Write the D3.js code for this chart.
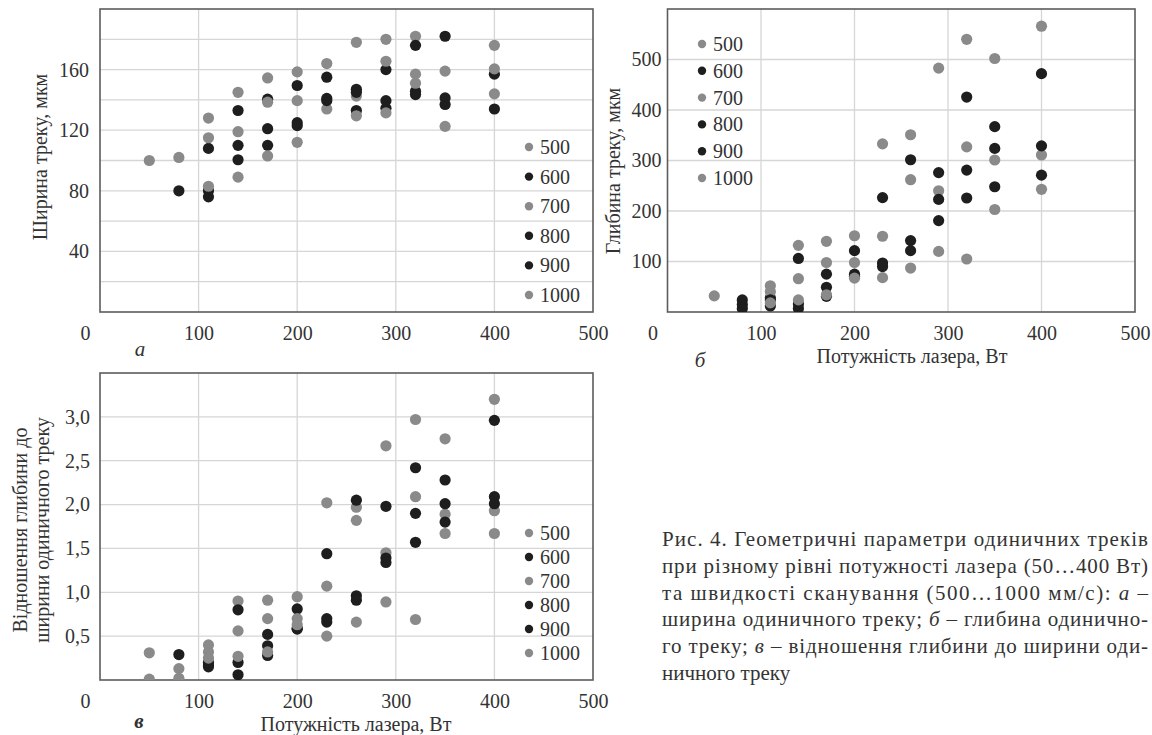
<!DOCTYPE html>
<html>
<head>
<meta charset="utf-8">
<script src="https://cdn.jsdelivr.net/npm/d3@7"></script>
<style>
    body { margin: 0; background: #fff; }
    text { font-family: "Liberation Serif", "Times New Roman", serif; fill: #333; }
</style>
</head>
<body>
<svg id="vis" width="1152" height="735"></svg>
<script>
// laser power, W (x values shared by all three panels)
var powers = [50, 80, 110, 140, 170, 200, 230, 260, 290, 320, 350, 400];
// scan speed, mm/s (series)
var speeds = [500, 600, 700, 800, 900, 1000];
var speedColors = ["#8a8a8a", "#1e1e1e", "#8a8a8a", "#1e1e1e", "#1e1e1e", "#8a8a8a"];
var xTicks = [0, 100, 200, 300, 400, 500];

// а - track width, um
var width500  = [100, 102, 128, 145, 154.5, 158.5, 164, 178, 180, 182, 159, 176];
var width600  = [null, 80, 108, 133, 140.5, 149.5, 155, 147, 160, 176, 182, 157];
var width700  = [null, null, 115, 119, 138.5, 139.5, 134, 142.5, 165.5, 157, 122.5, 160.5];
var width800  = [null, null, 80, 110, 121, 125, 141, 145, 139.5, 145.7, 141.3, 134];
var width900  = [null, null, 76, 100.5, 110, 123, 139.5, 133, 134.5, 143.5, 137, null];
var width1000 = [null, null, 83, 89, 103, 112, null, 129.5, 131.5, 151, null, 144];

// б - track depth, um
var depth500  = [32, null, 52, 132, 140, 151, 333, 351, 483, 540, 502, 566];
var depth600  = [null, 24, 28, 106, 75, 121.5, 226.5, 301.5, 276, 425.6, 367, 472];
var depth700  = [null, null, 40, 66, 98, 98, 150, 262, 240, 327, 301, 311];
var depth800  = [null, 15, 24, 16, 49, 75, 97, 141.4, 223, 281, 324, 329];
var depth900  = [null, 7, 12, 7, 31, 71, 90, 121.5, 181, 225.7, 248, 271];
var depth1000 = [null, null, 18, 24, 34, 67, 68, 87, 120, 105, 203, 243];

// в - depth / width ratio
var ratio500  = [0.31, 0.13, 0.40, 0.90, 0.91, 0.95, 2.02, 1.97, 2.67, 2.97, 2.75, 3.20];
var ratio600  = [null, 0.29, 0.20, 0.80, 0.52, 0.81, 1.44, 2.05, 1.98, 2.42, 2.28, 2.96];
var ratio700  = [null, null, 0.32, 0.56, 0.70, 0.70, 1.07, 1.82, 1.45, 2.09, 1.89, 1.93];
var ratio800  = [null, null, 0.17, 0.20, 0.39, 0.59, 0.70, 0.96, 1.39, 1.90, 2.01, 2.09];
var ratio900  = [null, null, 0.15, 0.06, 0.28, 0.58, 0.66, 0.91, 1.34, 1.57, 1.80, 2.01];
var ratio1000 = [0.01, 0.02, 0.25, 0.27, 0.32, 0.63, 0.50, 0.66, 0.89, 0.69, 1.67, 1.67];

var captionLines = [
    ["Рис. 4. Геометричні параметри одиничних треків"],
    ["при різному рівні потужності лазера (50…400 Вт)"],
    ["та швидкості сканування (500…1000 мм/с): ", "а", " –"],
    ["ширина одиничного треку; ", "б", " – глибина одинично-"],
    ["го треку; ", "в", " – відношення глибини до ширини оди-"],
    ["ничного треку"]
];

var svg = d3.select("#vis");
var commaFmt = function (d) { return d3.format(".1f")(d).replace(".", ","); };

function drawPanel(p) {
    var x = d3.scaleLinear().domain([0, 500]).range([p.left, p.right]);
    var y = d3.scaleLinear().domain([0, p.yMax]).range([p.bottom, p.top]);
    var g = svg.append("g");

    // grid
    g.append("g").selectAll("line")
        .data(p.yGrid)
        .enter().append("line")
        .attr("x1", p.left).attr("x2", p.right)
        .attr("y1", function (d) { return y(d); })
        .attr("y2", function (d) { return y(d); })
        .attr("stroke", "#d6d6d6")
        .attr("stroke-width", 1.3);
    g.append("g").selectAll("line")
        .data([100, 200, 300, 400])
        .enter().append("line")
        .attr("y1", p.top).attr("y2", p.bottom)
        .attr("x1", function (d) { return x(d); })
        .attr("x2", function (d) { return x(d); })
        .attr("stroke", "#d6d6d6")
        .attr("stroke-width", 1.3);

    // frame
    g.append("rect")
        .attr("x", p.left).attr("y", p.top)
        .attr("width", p.right - p.left)
        .attr("height", p.bottom - p.top)
        .attr("fill", "none")
        .attr("stroke", "#5c5c5c")
        .attr("stroke-width", 1.6);

    // axes
    var yAxis = g.append("g")
        .attr("transform", "translate(" + p.left + ",0)")
        .call(d3.axisLeft(y).tickValues(p.yTicks).tickSize(0).tickPadding(p.yPad).tickFormat(p.fmt));
    yAxis.select(".domain").remove();
    yAxis.selectAll("text").style("font-size", "20px");

    var xAxis = g.append("g")
        .attr("transform", "translate(0," + p.bottom + ")")
        .call(d3.axisBottom(x).tickValues(xTicks).tickSize(0).tickPadding(14));
    xAxis.select(".domain").remove();
    xAxis.selectAll("text").style("font-size", "20px")
        .attr("x", function (d) { return d === 0 ? -15 : 0; });

    // points
    var clipId = "clip" + p.name;
    g.append("clipPath").attr("id", clipId)
        .append("rect")
        .attr("x", p.left).attr("y", p.top)
        .attr("width", p.right - p.left)
        .attr("height", p.bottom - p.top);

    var dots = g.append("g").attr("clip-path", "url(#" + clipId + ")");
    p.series.forEach(function (vals, si) {
        var pts = powers.map(function (pw, i) { return {p: pw, v: vals[i]}; })
            .filter(function (d) { return d.v !== null; });
        dots.append("g").selectAll("circle")
            .data(pts)
            .enter().append("circle")
            .attr("cx", function (d) { return x(d.p); })
            .attr("cy", function (d) { return y(d.v); })
            .attr("r", 5.6)
            .attr("fill", speedColors[si]);
    });

    // legend
    var leg = g.append("g").selectAll("g")
        .data(speeds)
        .enter().append("g")
        .attr("transform", function (d, i) {
            return "translate(" + p.legX + "," + (p.legY + i * p.legStep) + ")";
        });
    leg.append("circle")
        .attr("r", 4.2)
        .attr("fill", function (d, i) { return speedColors[i]; });
    leg.append("text")
        .attr("x", 11)
        .attr("dy", "0.35em")
        .style("font-size", "20px")
        .text(function (d) { return d; });

    // y title
    p.yTitle.forEach(function (t, i) {
        g.append("text")
            .attr("transform", "translate(" + t.x + "," + t.y + ") rotate(-90)")
            .attr("text-anchor", "middle")
            .attr("dy", "0.35em")
            .style("font-size", "20px")
            .text(t.text);
    });

    // x title
    if (p.xTitle) {
        g.append("text")
            .attr("x", p.xTitle.x).attr("y", p.xTitle.y)
            .attr("text-anchor", "middle")
            .attr("dy", "0.35em")
            .style("font-size", "20px")
            .text("Потужність лазера, Вт");
    }

    // panel letter
    g.append("text")
        .attr("x", p.letter.x).attr("y", p.letter.y)
        .attr("text-anchor", "middle")
        .attr("dy", "0.3em")
        .style("font-size", "21px")
        .style("font-style", "italic")
        .style("font-weight", p.letter.bold ? "bold" : "normal")
        .text(p.letter.text);
}

drawPanel({
    name: "a", left: 100, right: 593, top: 9, bottom: 312,
    yMax: 200, yGrid: [20, 40, 60, 80, 100, 120, 140, 160, 180],
    yTicks: [40, 80, 120, 160], yPad: 11, fmt: d3.format("d"),
    series: [width500, width600, width700, width800, width900, width1000],
    legX: 529, legY: 147, legStep: 29.6,
    yTitle: [{x: 40, y: 157, text: "Ширина треку, мкм"}],
    xTitle: null,
    letter: {x: 140, y: 350, text: "а"}
});

drawPanel({
    name: "b", left: 667.5, right: 1135, top: 9, bottom: 312,
    yMax: 600, yGrid: [100, 200, 300, 400, 500],
    yTicks: [100, 200, 300, 400, 500], yPad: 6, fmt: d3.format("d"),
    series: [depth500, depth600, depth700, depth800, depth900, depth1000],
    legX: 702, legY: 44, legStep: 26.8,
    yTitle: [{x: 613, y: 171, text: "Глибина треку, мкм"}],
    xTitle: {x: 912, y: 356},
    letter: {x: 700, y: 361, text: "б"}
});

drawPanel({
    name: "c", left: 100, right: 593, top: 373, bottom: 680,
    yMax: 3.5, yGrid: [0.5, 1, 1.5, 2, 2.5, 3],
    yTicks: [0.5, 1, 1.5, 2, 2.5, 3], yPad: 10, fmt: commaFmt,
    series: [ratio500, ratio600, ratio700, ratio800, ratio900, ratio1000],
    legX: 529, legY: 533, legStep: 24,
    yTitle: [{x: 20, y: 530, text: "Відношення глибини до"},
             {x: 42, y: 530, text: "ширини одиничного треку"}],
    xTitle: {x: 356, y: 724},
    letter: {x: 139, y: 722, text: "в", bold: true}
});

// caption, justified except the last line
var cap = svg.append("g");
captionLines.forEach(function (parts, i) {
    var t = cap.append("text")
        .attr("x", 662)
        .attr("y", 546 + i * 26.8)
        .style("font-size", "21px");
    if (i < captionLines.length - 1) {
        t.attr("textLength", 486).attr("lengthAdjust", "spacing");
    }
    parts.forEach(function (s, j) {
        t.append("tspan")
            .style("font-style", j === 1 ? "italic" : "normal")
            .text(s);
    });
});
</script>
</body>
</html>
